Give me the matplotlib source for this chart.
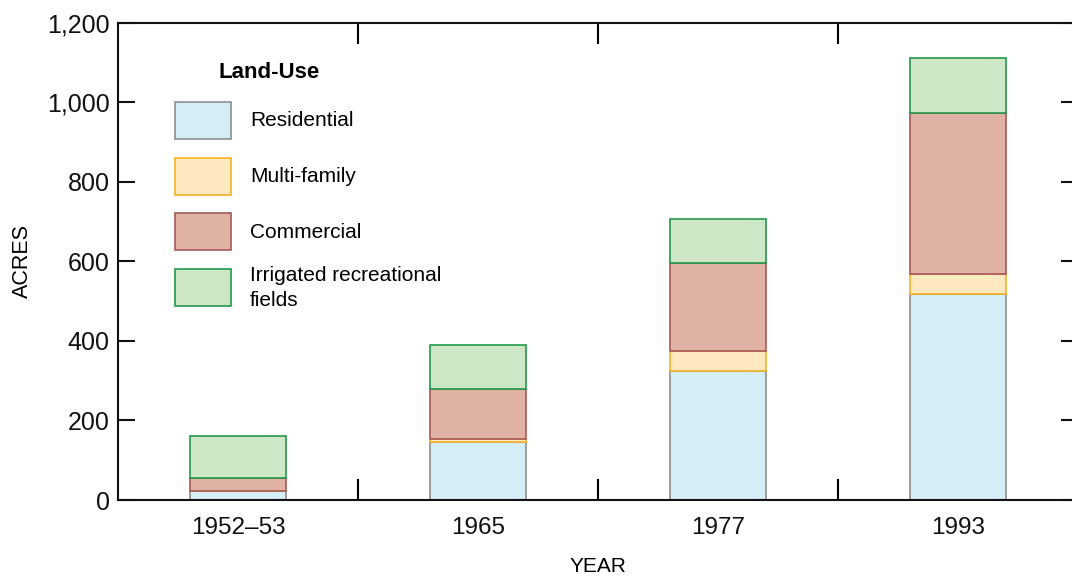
import matplotlib
matplotlib.use("Agg")
import matplotlib.pyplot as plt
from matplotlib.ticker import FuncFormatter, FixedLocator
from matplotlib.patches import Rectangle
import numpy as np

years = ["1952\u201353", "1965", "1977", "1993"]
residential = [22, 147, 325, 517]
multi_family = [0, 6, 50, 50]
commercial = [34, 127, 221, 406]
irrigated = [106, 110, 111, 138]

series_names = ["Residential", "Multi-family", "Commercial", "Irrigated recreational\nfields"]
fills = ["#d5edf4", "#fde8c0", "#dfb2a3", "#cde6c6"]
edges = ["#8e8e8e", "#f5b324", "#a8585a", "#23994a"]

plt.rcParams['font.family'] = ['Liberation Sans', 'DejaVu Sans']

W, H = 1072, 584
fig = plt.figure(figsize=(W/100, H/100), dpi=100)
ax = fig.add_axes([118/W, (H-500)/H, 960/W, 477.3/H])

x = np.arange(len(years))
bottom = np.zeros(len(years))
for vals, fc, ec, name in zip([residential, multi_family, commercial, irrigated], fills, edges, series_names):
    v = np.array(vals, dtype=float)
    ax.bar(x, v, width=0.4, bottom=bottom, color=fc, edgecolor=ec, linewidth=1.2, label=name, zorder=2)
    bottom += v

ax.set_xlim(-0.5, 3.5)
ax.set_ylim(0, 1200)
ax.set_yticks(range(0, 1201, 200))
ax.yaxis.set_major_formatter(FuncFormatter(lambda v, p: f"{int(v):,}"))
ax.set_xticks(x)
ax.set_xticklabels(years)
ax.xaxis.set_minor_locator(FixedLocator([0.5, 1.5, 2.5]))

for s in ax.spines.values():
    s.set_linewidth(1.5)
    s.set_color("#111111")

ax.tick_params(axis='x', which='major', length=0, labelsize=17.5, pad=12, colors='#111111')
ax.tick_params(axis='x', which='minor', direction='in', length=15, width=1.5, top=True, bottom=True)
ax.tick_params(axis='y', which='major', direction='in', length=12, width=1.5, left=True, right=True,
               labelsize=18, pad=6, colors='#111111')

ax.set_xlabel("YEAR", fontsize=15, labelpad=13)
ax.set_ylabel("ACRES", fontsize=15.5, labelpad=10)

# Legend (manual layout, in figure pixel coordinates)
fig.text(218/W, 1 - 73/H, "Land-Use", fontsize=16, fontweight='bold', va='center', ha='left')
row_tops = [102, 158, 213, 269]
for top, fc, ec, name in zip(row_tops, fills, edges, series_names):
    fig.patches.append(Rectangle((175/W, 1 - (top + 37)/H), 56/W, 37/H, facecolor=fc, edgecolor=ec,
                                 linewidth=1.2, transform=fig.transFigure, figure=fig))
    fig.text(250/W, 1 - (top + 19)/H, name, fontsize=15, va='center', ha='left', linespacing=1.35)

fig.savefig("out.png", dpi=100)
